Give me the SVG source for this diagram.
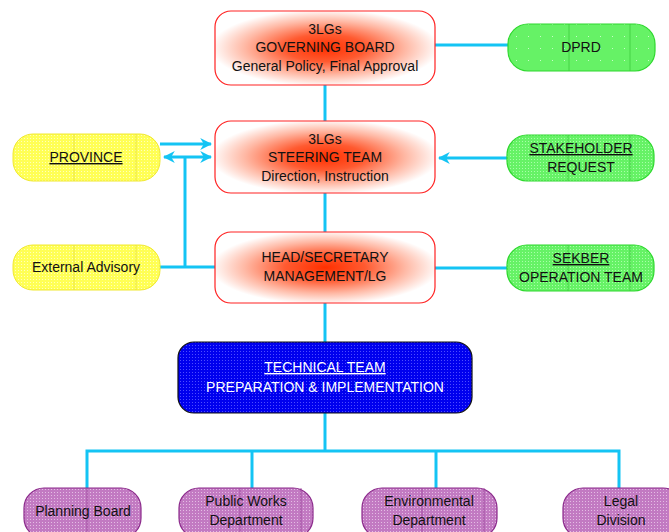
<svg xmlns="http://www.w3.org/2000/svg" width="669" height="532" viewBox="0 0 669 532">
<defs>
<radialGradient id="redg" cx="50%" cy="50%" r="52%">
<stop offset="0" stop-color="#ff3000"/>
<stop offset="0.35" stop-color="#ff5a30"/>
<stop offset="0.7" stop-color="#ffb8a4"/>
<stop offset="1" stop-color="#ffffff"/>
</radialGradient>
<pattern id="pyel" width="3" height="3" patternUnits="userSpaceOnUse">
<rect width="3" height="3" fill="#ffff55"/>
<rect width="1" height="1" fill="#ffffbb"/>
</pattern>
<pattern id="pgrn" width="3" height="3" patternUnits="userSpaceOnUse">
<rect width="3" height="3" fill="#66f266"/>
<rect width="1" height="1" fill="#a8ffa8"/>
</pattern>
<pattern id="pdprd" width="12" height="12" patternUnits="userSpaceOnUse">
<rect width="12" height="12" fill="#66f266"/>
<rect width="1" height="1" fill="#c8ffc8"/>
</pattern>
<pattern id="ppur" width="3" height="3" patternUnits="userSpaceOnUse">
<rect width="3" height="3" fill="#c27ac2"/>
<rect width="1" height="1" fill="#e4bde4"/>
</pattern>
<pattern id="pblu" width="3" height="3" patternUnits="userSpaceOnUse">
<rect width="3" height="3" fill="#0000ee"/>
<rect width="1" height="1" fill="#4c4cff"/>
</pattern>
<marker id="arr" viewBox="0 0 10 10" refX="9" refY="5" markerWidth="4" markerHeight="4" orient="auto-start-reverse" markerUnits="strokeWidth">
<path d="M0,0 L10,5 L0,10 L3,5 z" fill="#14c4f4"/>
</marker>
</defs>
<style>
text{font-family:"Liberation Sans",Arial,sans-serif;font-size:14px;fill:#111;text-anchor:middle}
.red{fill:url(#redg);stroke:#ff2222;stroke-width:1.2}
.yel{fill:url(#pyel);stroke:#f0e830;stroke-width:1}
.grn{fill:url(#pgrn);stroke:#2ed82e;stroke-width:1.2}
.pur{fill:url(#ppur);stroke:#8b2a8b;stroke-width:1.2}
.blu{fill:url(#pblu);stroke:#111;stroke-width:1.2}
.div{stroke-width:0.8;fill:none}
.c{stroke:#14c4f4;stroke-width:3;fill:none}
.u{text-decoration:underline}
.w{fill:#ffffff}
</style>
<g id="connectors">
<line class="c" x1="325" y1="85" x2="325" y2="121"/>
<line class="c" x1="325" y1="193" x2="325" y2="232"/>
<line class="c" x1="325" y1="303" x2="325" y2="342"/>
<line class="c" x1="435" y1="45" x2="508" y2="45"/>
<line class="c" x1="160" y1="144" x2="211" y2="144" marker-end="url(#arr)"/>
<line class="c" x1="164" y1="157" x2="211" y2="157" marker-start="url(#arr)" marker-end="url(#arr)"/>
<line class="c" x1="185" y1="157" x2="185" y2="267"/>
<line class="c" x1="160" y1="267" x2="215" y2="267"/>
<line class="c" x1="507" y1="158" x2="439" y2="158" marker-end="url(#arr)"/>
<line class="c" x1="435" y1="268" x2="507" y2="268"/>
<line class="c" x1="325" y1="413" x2="325" y2="451"/>
<polyline class="c" points="87,488 87,451 619,451 619,488"/>
<line class="c" x1="252" y1="451" x2="252" y2="488"/>
<line class="c" x1="436" y1="451" x2="436" y2="488"/>
</g>
<g id="governing-board">
<rect class="red" x="215" y="11" width="220" height="74" rx="16"/>
<text x="325" y="34">3LGs</text>
<text x="325" y="52">GOVERNING BOARD</text>
<text x="325" y="71">General Policy, Final Approval</text>
</g>
<g id="steering-team">
<rect class="red" x="215" y="121" width="220" height="72" rx="16"/>
<text x="325" y="144">3LGs</text>
<text x="325" y="162">STEERING TEAM</text>
<text x="325" y="181">Direction, Instruction</text>
</g>
<g id="head-secretary">
<rect class="red" x="215" y="232" width="220" height="71" rx="16"/>
<text x="325" y="262">HEAD/SECRETARY</text>
<text x="325" y="281">MANAGEMENT/LG</text>
</g>
<g id="dprd">
<rect x="508" y="24" width="147" height="47" rx="20" fill="url(#pdprd)" stroke="#2ed82e" stroke-width="1.2"/>
<line class="div" x1="569" y1="24" x2="569" y2="71" stroke="#3ccc3c"/>
<line class="div" x1="630" y1="24" x2="630" y2="71" stroke="#3ccc3c"/>
<text x="581" y="52">DPRD</text>
</g>
<g id="province">
<rect class="yel" x="13" y="134" width="147" height="47" rx="20"/>
<line class="div" x1="74" y1="134" x2="74" y2="181" stroke="#e6e040"/>
<line class="div" x1="136" y1="134" x2="136" y2="181" stroke="#e6e040"/>
<text x="86" y="162" class="u">PROVINCE</text>
</g>
<g id="external-advisory">
<rect class="yel" x="13" y="245" width="147" height="45" rx="20"/>
<line class="div" x1="74" y1="245" x2="74" y2="290" stroke="#e6e040"/>
<line class="div" x1="136" y1="245" x2="136" y2="290" stroke="#e6e040"/>
<text x="86" y="272">External Advisory</text>
</g>
<g id="stakeholder-request">
<rect class="grn" x="507" y="135" width="147" height="46" rx="20"/>
<line class="div" x1="568" y1="135" x2="568" y2="181" stroke="#3ccc3c"/>
<line class="div" x1="630" y1="135" x2="630" y2="181" stroke="#3ccc3c"/>
<text x="581" y="153" class="u">STAKEHOLDER</text>
<text x="581" y="172">REQUEST</text>
</g>
<g id="sekber">
<rect class="grn" x="507" y="245" width="147" height="46" rx="20"/>
<line class="div" x1="568" y1="245" x2="568" y2="291" stroke="#3ccc3c"/>
<line class="div" x1="630" y1="245" x2="630" y2="291" stroke="#3ccc3c"/>
<text x="581" y="263" class="u">SEKBER</text>
<text x="581" y="282">OPERATION TEAM</text>
</g>
<g id="technical-team">
<rect class="blu" x="178" y="342" width="294" height="71" rx="16"/>
<text x="325" y="372" class="w u">TECHNICAL TEAM</text>
<text x="325" y="392" class="w">PREPARATION &amp; IMPLEMENTATION</text>
</g>
<g id="planning-board">
<rect class="pur" x="24" y="488" width="117" height="50" rx="20"/>
<line class="div" x1="87" y1="488" x2="87" y2="538" stroke="#9c449c"/>
<text x="83" y="516">Planning Board</text>
</g>
<g id="public-works">
<rect class="pur" x="179" y="488" width="134" height="50" rx="20"/>
<line class="div" x1="240" y1="488" x2="240" y2="538" stroke="#9c449c"/>
<line class="div" x1="301" y1="488" x2="301" y2="538" stroke="#9c449c"/>
<text x="246" y="506">Public Works</text>
<text x="246" y="525">Department</text>
</g>
<g id="environmental">
<rect class="pur" x="362" y="488" width="135" height="50" rx="20"/>
<line class="div" x1="422" y1="488" x2="422" y2="538" stroke="#9c449c"/>
<line class="div" x1="484" y1="488" x2="484" y2="538" stroke="#9c449c"/>
<text x="429" y="506">Environmental</text>
<text x="429" y="525">Department</text>
</g>
<g id="legal-division">
<rect class="pur" x="563" y="488" width="120" height="50" rx="20"/>
<text x="621" y="506">Legal</text>
<text x="621" y="525">Division</text>
</g>
</svg>
